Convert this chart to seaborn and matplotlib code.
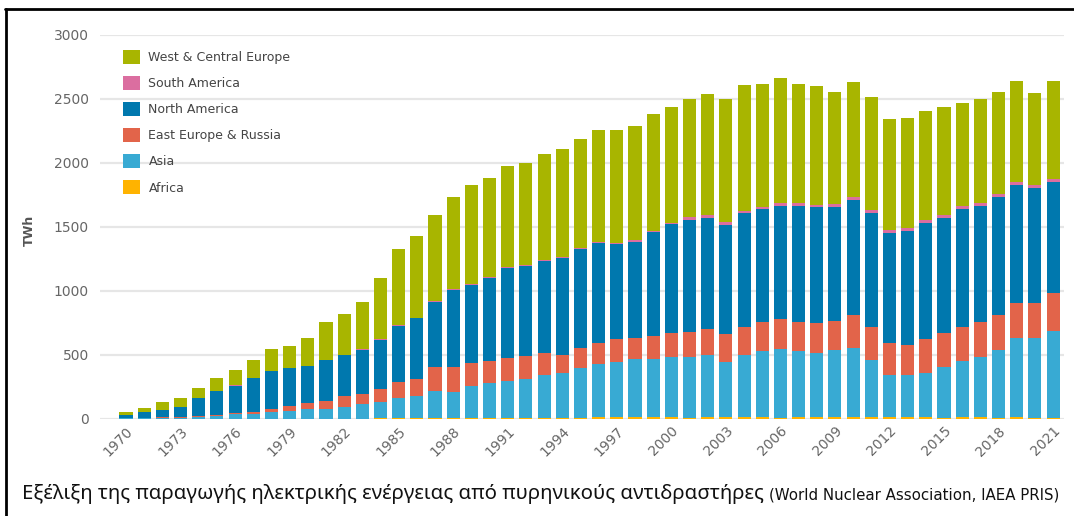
import pandas as pd
import matplotlib
matplotlib.use('Agg')
import matplotlib.pyplot as plt
from matplotlib.patches import Patch
from matplotlib.lines import Line2D
import seaborn as sns

# ---- data (TWh) ----
years = list(range(1970, 2022))

africa = [0, 0, 0, 0, 0, 0, 0, 0, 0, 0,
          0, 0, 0, 0, 5, 5, 9, 7, 11, 11,
          8, 9, 9, 7, 9, 11, 12, 12, 14, 13,
          13, 11, 12, 13, 14, 12, 10, 12, 13, 12,
          12, 13, 12, 14, 14, 11, 15, 15, 10, 13,
          11, 11]
asia = [4, 8, 9, 10, 14, 20, 37, 40, 52, 62,
        78, 80, 96, 115, 125, 156, 171, 214, 203, 247,
        271, 290, 301, 337, 353, 385, 418, 436, 452, 453,
        474, 476, 488, 430, 486, 519, 534, 519, 505, 527,
        540, 448, 332, 330, 343, 393, 438, 472, 529, 617,
        619, 676]
east_europe = [2, 2, 4, 6, 9, 8, 10, 15, 29, 40,
               50, 61, 84, 78, 107, 126, 132, 188, 195, 182,
               177, 175, 182, 174, 138, 156, 161, 177, 164, 182,
               187, 195, 201, 221, 221, 229, 234, 229, 234, 229,
               260, 260, 247, 234, 268, 270, 268, 273, 273, 279,
               279, 295]
north_america = [23, 42, 57, 80, 138, 191, 213, 263, 294, 294,
                 286, 320, 320, 346, 380, 440, 474, 508, 599, 607,
                 648, 708, 703, 716, 760, 776, 781, 740, 755, 810,
                 847, 873, 872, 852, 886, 878, 889, 907, 902, 891,
                 899, 886, 865, 893, 909, 899, 920, 907, 925, 919,
                 893, 872]
south_america = [0, 0, 0, 0, 2, 2, 2, 2, 3, 3,
                 3, 3, 3, 5, 6, 8, 6, 7, 5, 7,
                 9, 9, 9, 8, 8, 9, 10, 11, 10, 11,
                 11, 20, 19, 20, 19, 16, 21, 19, 21, 20,
                 21, 22, 22, 21, 21, 21, 23, 22, 22, 23,
                 24, 24]
west_europe = [28, 36, 63, 71, 79, 102, 121, 141, 166, 174,
               218, 294, 317, 373, 481, 593, 640, 670, 721, 777,
               772, 788, 793, 828, 839, 851, 876, 882, 897, 911,
               908, 922, 950, 964, 986, 963, 979, 929, 924, 873,
               898, 889, 866, 857, 854, 846, 802, 811, 793, 792,
               718, 765]

regions = ['West & Central Europe', 'South America', 'North America',
           'East Europe & Russia', 'Asia', 'Africa']
series = [west_europe, south_america, north_america, east_europe, asia, africa]
colors = ['#a8b500', '#db6ea0', '#0078ae', '#e2644a', '#38aad3', '#ffb300']

caption = 'Εξέλιξη της παραγωγής ηλεκτρικής ενέργειας από πυρηνικούς αντιδραστήρες'
source = '(World Nuclear Association, IAEA PRIS)'

df = pd.concat([pd.DataFrame({'year': years, 'twh': s, 'region': r})
                for r, s in zip(regions, series)], ignore_index=True)

# ---- plot ----
sns.set_style('white')
plt.rcParams['font.family'] = ['DejaVu Sans']

W, H = 1074, 516
fig = plt.figure(figsize=(W / 100, H / 100), dpi=100)
ax = fig.add_axes([100 / W, (H - 419) / H, 964 / W, 384 / H])

sns.histplot(data=df, x='year', weights='twh', hue='region',
             hue_order=regions, palette=colors, multiple='stack',
             discrete=True, shrink=0.72, alpha=1, linewidth=0,
             legend=False, ax=ax)

ax.set_xlim(1970 - 1.43, 2021 + 0.6)
ax.set_ylim(0, 3000)
ax.set_yticks(range(0, 3001, 500))
ax.set_xticks(years[::3])
ax.tick_params(axis='both', length=0, colors='#666666', labelsize=10)
ax.tick_params(axis='y', pad=8)
plt.setp(ax.get_xticklabels(), rotation=45, ha='right', rotation_mode='anchor')
ax.yaxis.grid(True, color='#e6e6e6', lw=1.6)
ax.xaxis.grid(False)
ax.set_axisbelow(True)
sns.despine(ax=ax, left=True, bottom=True)

ax.set_xlabel('')
ax.set_ylabel('TWh', fontsize=9, color='#555555', fontweight='bold')
ax.yaxis.set_label_coords(-0.067, 0.49)

handles = [Patch(facecolor=c, edgecolor='none') for c in colors]
ax.legend(handles, regions, loc='upper left', bbox_to_anchor=(0.0242, 0.9615),
          frameon=False, fontsize=9, labelcolor='#444444',
          handlelength=1.36, handleheight=1.36, handletextpad=0.65,
          labelspacing=0.95, borderpad=0, borderaxespad=0)

# frame lines (top and left)
fig.add_artist(Line2D([5 / W, 1], [1 - 8.5 / H, 1 - 8.5 / H], color='black', lw=2))
fig.add_artist(Line2D([5.5 / W, 5.5 / W], [0, 1 - 8.5 / H], color='black', lw=2))

# caption
t1 = fig.text(22 / W, (H - 499) / H, caption, fontsize=14.7, color='#111111',
              family=['Noto Sans', 'DejaVu Sans'], va='baseline')
fig.canvas.draw()
bb = t1.get_window_extent()
fig.text((bb.x1 + 5) / W, (H - 499) / H, source, fontsize=10.8, color='#111111',
         family=['Liberation Sans Narrow', 'DejaVu Sans'], va='baseline')

fig.savefig('out.png', dpi=100)
